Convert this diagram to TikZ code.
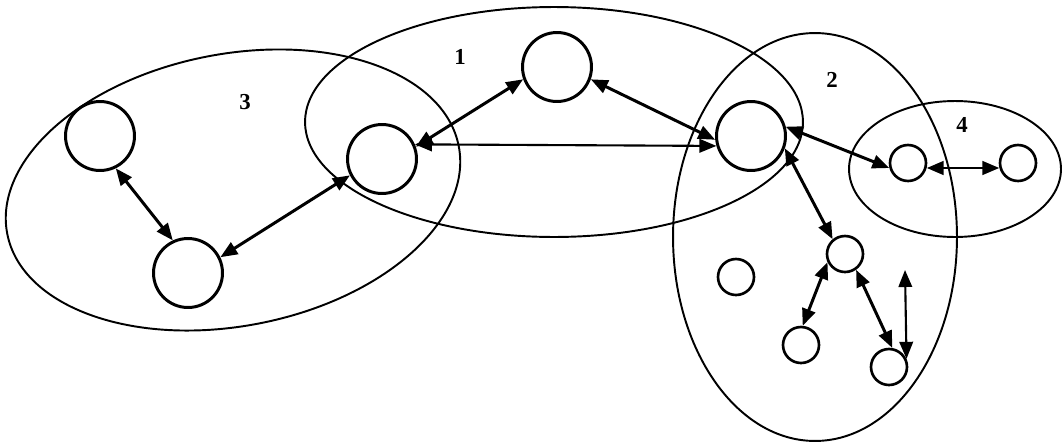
\documentclass[tikz,border=0pt]{standalone}
\usepackage{fontspec}
\setmainfont{Liberation Serif}
\usetikzlibrary{arrows.meta,shapes.geometric}

\begin{document}
\begin{tikzpicture}[
  x=0.02cm, y=-0.02cm,
  group/.style={draw, ellipse, line width=1.1pt, inner sep=0pt},
  big/.style={draw, circle, line width=1.7pt, inner sep=0pt, minimum size=1.38cm},
  small/.style={draw, circle, line width=1.5pt, inner sep=0pt, minimum size=0.72cm},
  num/.style={font=\bfseries\fontsize{13}{15}\selectfont, inner sep=0pt},
  link/.style={{Triangle[length=0.34cm,width=0.27cm]}-{Triangle[length=0.34cm,width=0.27cm]}, line width=1.7pt},
  thinlink/.style={link, line width=1.2pt}
]
\useasboundingbox (0,0) rectangle (1064,443);
\node[group, minimum width=9.2cm, minimum height=5.44cm, rotate=11] (g3) at (233,190) {};
\node[group, minimum width=9.96cm, minimum height=4.6cm] (g1) at (554,122) {};
\node[group, minimum width=5.68cm, minimum height=8.16cm] (g2) at (815,237) {};
\node[group, minimum width=4.24cm, minimum height=2.72cm] (g4) at (955,169) {};
\node[num] (l3) at (245,102) {3};
\node[num] (l1) at (460,57) {1};
\node[num] (l2) at (832,80) {2};
\node[num] (l4) at (962,125) {4};
\node[big] (a3) at (100,136) {};
\node[big] (b3) at (188,273) {};
\node[big] (c13) at (382,159) {};
\node[big] (d1) at (557,67) {};
\node[big] (e12) at (751,136) {};
\node[small] (f24) at (908,163) {};
\node[small] (g4n) at (1018,163) {};
\node[small] (h2) at (845,254) {};
\node[small] (i2) at (736,277) {};
\node[small] (j2) at (801,345) {};
\node[small] (k2) at (889,367) {};
\coordinate (top2) at (905,270);
\draw[link] (a3.-64) -- (b3.115);
\draw[link] (b3.26) -- (c13.207);
\draw[link] (c13.20) -- (d1.200);
\draw[thinlink] (c13.24) -- (e12.196);
\draw[link] (d1.-20) -- (e12.186);
\draw[link] (e12.15) -- (f24.195);
\draw[link] (e12.-20) -- (h2.130);
\draw[link] (f24.-15) -- (g4n.195);
\draw[link] (h2.205) -- (j2.85);
\draw[link] (h2.-55) -- (k2.80);
\draw[thinlink] (top2) -- (k2.25);
\end{tikzpicture}
\end{document}
